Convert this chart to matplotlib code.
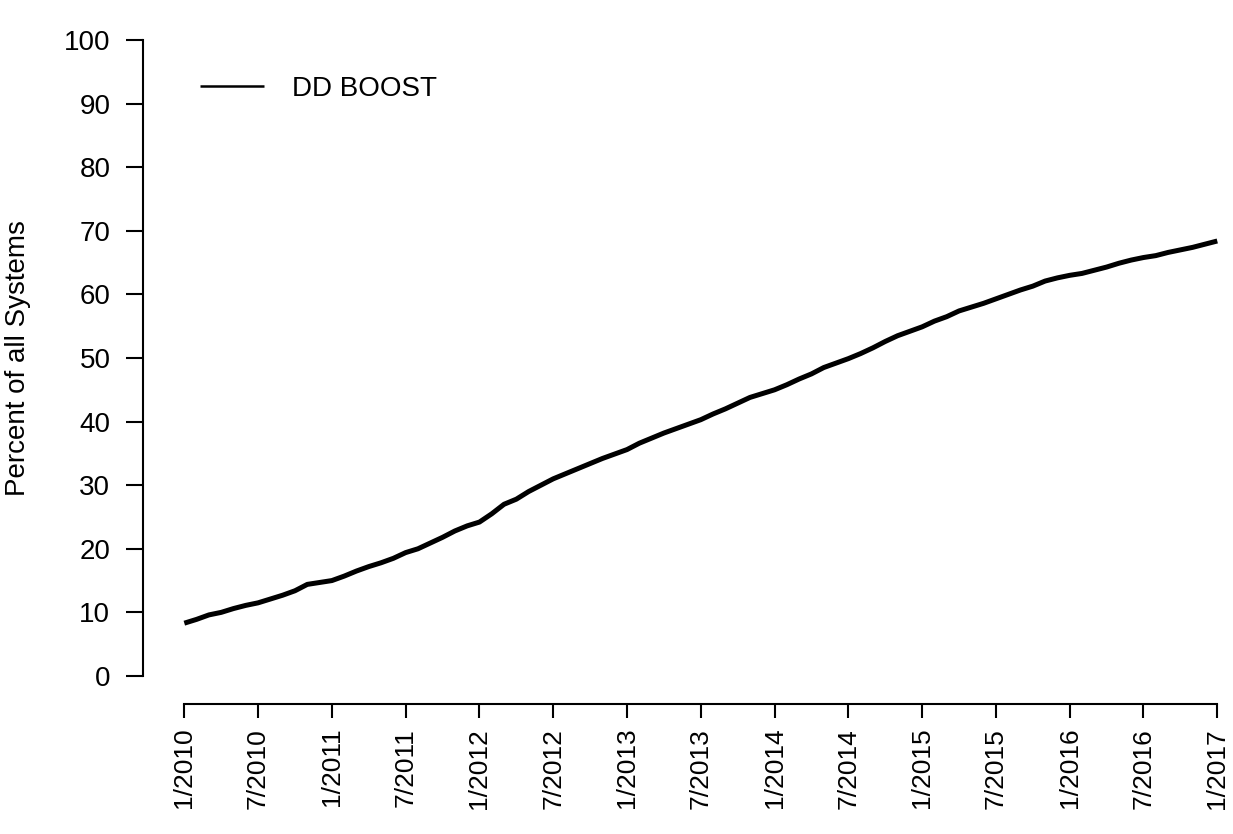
import numpy as np
import matplotlib
matplotlib.use('Agg')
import matplotlib.pyplot as plt

plt.rcParams.update({
    'font.family': ['Liberation Sans', 'DejaVu Sans'],
    'font.size': 18,
})

# ── data (monthly, 1/2010 .. 1/2017) ─────────────────────────────────────────
dd_boost = [
    8.3, 8.9, 9.6, 10.0, 10.6, 11.1, 11.5, 12.1, 12.7, 13.4, 14.4, 14.7,
    15.0, 15.7, 16.5, 17.2, 17.8, 18.5, 19.4, 20.0, 20.9, 21.8, 22.8, 23.6,
    24.2, 25.5, 27.0, 27.8, 29.0, 30.0, 31.0, 31.8, 32.6, 33.4, 34.2, 34.9,
    35.6, 36.6, 37.4, 38.2, 38.9, 39.6, 40.3, 41.2, 42.0, 42.9, 43.8, 44.4,
    45.0, 45.8, 46.7, 47.5, 48.5, 49.2, 49.9, 50.7, 51.6, 52.6, 53.5, 54.2,
    54.9, 55.8, 56.5, 57.4, 58.0, 58.6, 59.3, 60.0, 60.7, 61.3, 62.1, 62.6,
    63.0, 63.3, 63.8, 64.3, 64.9, 65.4, 65.8, 66.1, 66.6, 67.0, 67.4, 67.9,
    68.4,
]
months = np.arange(len(dd_boost))
tick_labels = ['1/2010', '7/2010', '1/2011', '7/2011', '1/2012', '7/2012',
               '1/2013', '7/2013', '1/2014', '7/2014', '1/2015', '7/2015',
               '1/2016', '7/2016', '1/2017']
tick_pos = np.arange(0, len(dd_boost), 6)
y_ticks = np.arange(0, 101, 10)

# ── figure (R base-graphics look) ────────────────────────────────────────────
W, H = 1233, 834
fig = plt.figure(figsize=(W / 100, H / 100), dpi=100)
# plot region: x from px 143 to ~1259, y from px 14.6 to 701.4
ax = fig.add_axes([143 / W, (H - 701.4) / H, 1115.6 / W, 686.8 / H])
ax.set_xlim(-3.36, 87.36)
ax.set_ylim(-4, 104)

ax.plot(months, dd_boost, color='black', linewidth=3.6,
        solid_capstyle='butt', label='DD BOOST', clip_on=False)

for side in ('top', 'right'):
    ax.spines[side].set_visible(False)
ax.spines['left'].set_bounds(0, 100)
ax.spines['bottom'].set_bounds(0, 84)
ax.spines['left'].set_linewidth(1.5)
ax.spines['bottom'].set_linewidth(1.5)
ax.spines['bottom'].set_position(('outward', 2))

ax.set_yticks(y_ticks)
ax.set_yticklabels([str(v) for v in y_ticks], fontsize=20)
ax.tick_params(axis='y', length=12.5, width=1.5, pad=11)
ax.set_xticks(tick_pos)
ax.set_xticklabels(tick_labels, rotation=90, fontsize=19)
ax.tick_params(axis='x', length=10, width=1.5, pad=7)

ax.set_ylabel('Percent of all Systems', fontsize=20, labelpad=24)

leg = ax.legend(loc='center left', bbox_to_anchor=(200 / W, 1 - 89 / H),
                bbox_transform=fig.transFigure, frameon=False,
                borderpad=0, borderaxespad=0, handlelength=2.3,
                handletextpad=1.0, fontsize=20)
leg.get_lines()[0].set_linewidth(1.8)

fig.savefig('out.png', dpi=100)
